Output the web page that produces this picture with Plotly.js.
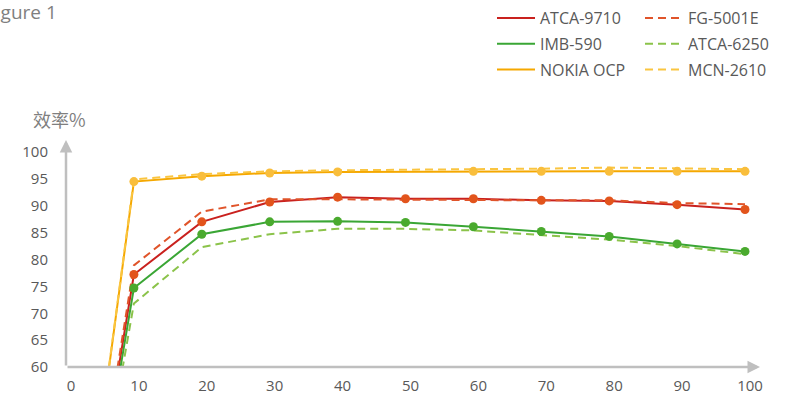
<!DOCTYPE html>
<html>
<head>
<meta charset="utf-8">
<script src="https://cdn.plot.ly/plotly-3.0.1.min.js"></script>
<style>html,body{margin:0;padding:0;background:#fff;}#chart{width:785px;height:398px;}</style>
</head>
<body>
<div id="chart"></div>
<script>
// Load (%) and efficiency (%) values
const load = [0, 10, 20, 30, 40, 50, 60, 70, 80, 90, 100];
const nokiaLoad = [0, 10, 20, 30, 40, 60, 70, 80, 90, 100];
const atca9710 = [0, 77.2, 87.0, 90.7, 91.6, 91.3, 91.3, 91.0, 90.9, 90.2, 89.3];
const fg5001e  = [0, 78.9, 88.9, 91.2, 91.2, 91.1, 91.1, 91.0, 91.0, 90.5, 90.3];
const imb590   = [0, 74.7, 84.7, 87.0, 87.1, 86.9, 86.1, 85.2, 84.3, 82.9, 81.5];
const atca6250 = [0, 71.8, 82.3, 84.7, 85.7, 85.7, 85.4, 84.6, 83.7, 82.5, 81.0];
const nokiaOcp = [0, 94.5, 95.5, 96.1, 96.3, 96.4, 96.4, 96.4, 96.4, 96.4];
const mcn2610  = [0, 94.9, 95.9, 96.4, 96.6, 96.7, 96.7, 96.9, 97.1, 96.9, 96.8];
const xTicks = [0, 10, 20, 30, 40, 50, 60, 70, 80, 90, 100];
const yTicks = [60, 65, 70, 75, 80, 85, 90, 95, 100];

const FONT = '"Open Sans", "Noto Sans", sans-serif';
const TXT = '#595959';

function lineTrace(name, x, y, color, dash, legend, group) {
  return {type: 'scatter', mode: 'lines', name: name, x: x, y: y,
    line: {color: color, width: 2, dash: dash},
    legend: legend, legendgroup: group, cliponaxis: true, hoverinfo: 'skip'};
}
function markerTrace(x, y, color) {
  return {type: 'scatter', mode: 'markers', x: x, y: y, showlegend: false,
    marker: {color: color, size: 9, line: {width: 0}}, cliponaxis: true, hoverinfo: 'skip'};
}

const data = [
  lineTrace('ATCA-9710', load, atca9710, '#c9211e', 'solid', 'legend', 'a'),
  lineTrace('IMB-590', load, imb590, '#3aa635', 'solid', 'legend', 'b'),
  lineTrace('NOKIA OCP', nokiaLoad, nokiaOcp, '#f5a800', 'solid', 'legend', 'c'),
  lineTrace('FG-5001E', load, fg5001e, '#e0542a', '8px,5px', 'legend2', 'd'),
  lineTrace('ATCA-6250', load, atca6250, '#8bc34a', '8px,5px', 'legend2', 'e'),
  lineTrace('MCN-2610', load, mcn2610, '#fac540', '8px,5px', 'legend2', 'f'),
  markerTrace(load, atca9710, '#e2541c'),
  markerTrace(load, imb590, '#4aaa2e'),
  markerTrace(nokiaLoad, nokiaOcp, '#f9be3c')
];

const L = 66, R = 25, T = 140, B = 31;
const W = 785 - L - R, H = 398 - T - B;
const px2x = p => (p - L) / W;
const px2y = p => (398 - B - p) / H;

const legendCommon = {
  orientation: 'v', traceorder: 'grouped', tracegroupgap: 2,
  font: {family: FONT, size: 16, color: TXT}, bgcolor: 'rgba(0,0,0,0)',
  itemwidth: 38, xanchor: 'left', yanchor: 'top'
};

const layout = {
  width: 785, height: 398,
  margin: {l: L, r: R, t: T, b: B, pad: 0, autoexpand: false},
  paper_bgcolor: '#ffffff', plot_bgcolor: '#ffffff',
  font: {family: FONT, size: 15, color: TXT},
  showlegend: true,
  legend: Object.assign({}, legendCommon, {x: px2x(492), y: px2y(1)}),
  legend2: Object.assign({}, legendCommon, {x: px2x(640), y: px2y(1)}),
  xaxis: {
    range: [0, W / 6.79], tickvals: xTicks, ticktext: xTicks.map(String),
    showgrid: false, zeroline: false, showline: false, ticks: '',
    tickfont: {family: FONT, size: 15, color: TXT},
    ticklabelstandoff: 8, ticklabelshift: 5, fixedrange: true
  },
  yaxis: {
    range: [60, 60 + H / 5.375], tickvals: yTicks, ticktext: yTicks.map(String),
    showgrid: false, zeroline: false, showline: false, ticks: '',
    tickfont: {family: FONT, size: 15, color: TXT},
    ticklabelstandoff: 17, fixedrange: true
  },
  annotations: [
    {xref: 'paper', yref: 'paper', x: 1, y: 0, ax: -W, ay: 0, axref: 'pixel', ayref: 'pixel',
     showarrow: true, arrowhead: 2, arrowsize: 1, arrowwidth: 2.5, arrowcolor: '#bfbfbf', text: ''},
    {xref: 'paper', yref: 'paper', x: 0, y: 1, ax: 0, ay: H, axref: 'pixel', ayref: 'pixel',
     showarrow: true, arrowhead: 2, arrowsize: 1, arrowwidth: 2.5, arrowcolor: '#bfbfbf', text: ''},
    {xref: 'paper', yref: 'paper', x: px2x(59), y: px2y(119), xanchor: 'center', yanchor: 'middle',
     showarrow: false, text: '效率%', font: {family: '"Noto Sans CJK SC", sans-serif', size: 18, color: '#7f7f7f'}},
    {xref: 'paper', yref: 'paper', x: px2x(59), y: px2y(12), xanchor: 'right', yanchor: 'middle',
     showarrow: false, text: 'Figure 1', font: {family: FONT, size: 19, color: '#7f7f7f'}}
  ]
};

Plotly.newPlot('chart', data, layout, {staticPlot: true, displayModeBar: false});
</script>
</body>
</html>
